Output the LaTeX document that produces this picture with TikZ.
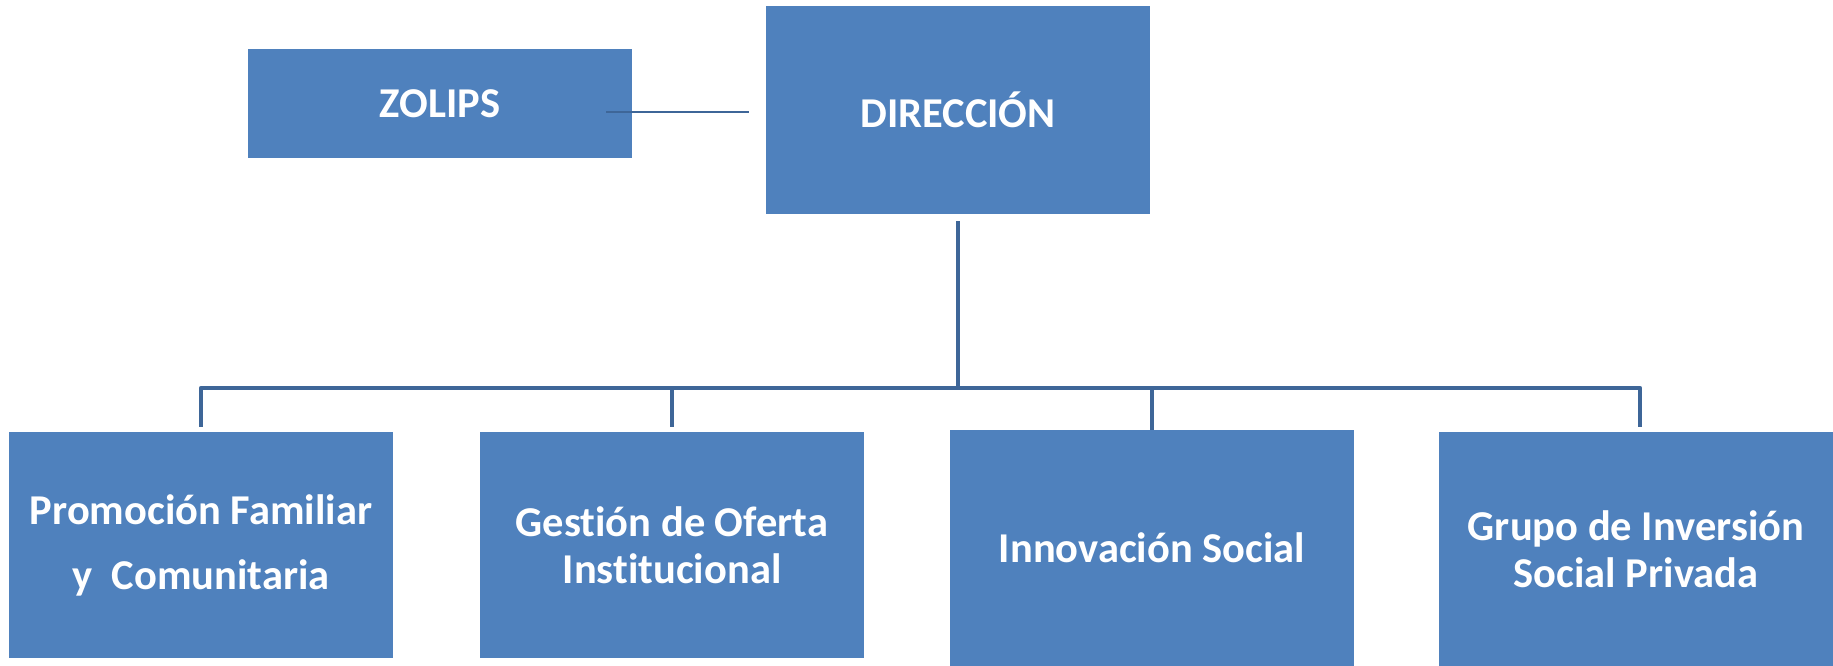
\documentclass[tikz,border=0pt]{standalone}
\usepackage{fontspec}
\setmainfont[Ligatures=NoCommon]{Carlito}
\usetikzlibrary{calc}
\definecolor{boxblue}{HTML}{4F81BD}
\definecolor{lineblue}{HTML}{3E6698}
\tikzset{
  unit/.style={draw=none, fill=boxblue, text=white, font=\fontsize{42.5}{47}\selectfont\bfseries, align=center, inner sep=0pt},
  conn/.style={draw=lineblue, line width=4.5pt, line join=round},
  thinconn/.style={draw=lineblue, line width=2pt}
}
\begin{document}
\begin{tikzpicture}[x=1pt, y=-1pt]
\useasboundingbox (0,0) rectangle (1833,666);
\node[unit, minimum width=384pt, minimum height=109pt] (zolips) at (440,103.5) {ZOLIPS};
\node[unit, minimum width=384pt, minimum height=208pt] (dir) at (958,110) {DIRECCIÓN};
\node[unit, minimum width=384pt, minimum height=226pt] (b1) at (201,545) {Promoción Familiar\\[18pt]y\ \ Comunitaria};
\node[unit, minimum width=384pt, minimum height=226pt] (b2) at (672,545) {Gestión de Oferta\\Institucional};
\node[unit, minimum width=404pt, minimum height=236pt] (b3) at (1152,548) {Innovación Social};
\node[unit, minimum width=394pt, minimum height=234pt] (b4) at (1636,549) {Grupo de Inversión\\Social Privada};
\coordinate (bus) at (958,388);
\draw[thinconn] ($(zolips.east)+(-26,8.5)$) -- ($(zolips.east -| dir.west)+(-17,8.5)$);
\draw[conn] ([yshift=-7pt]dir.south) -- (dir.south |- bus);
\draw[conn] ([yshift=5pt]b1.north) -- (b1.north |- bus) -- ([xshift=4pt]b4.north |- bus) -- ([xshift=4pt,yshift=5pt]b4.north);
\draw[conn] (b2.north |- bus) -- ([yshift=5pt]b2.north);
\draw[conn] (b3.north |- bus) -- (b3.north);
\end{tikzpicture}
\end{document}
